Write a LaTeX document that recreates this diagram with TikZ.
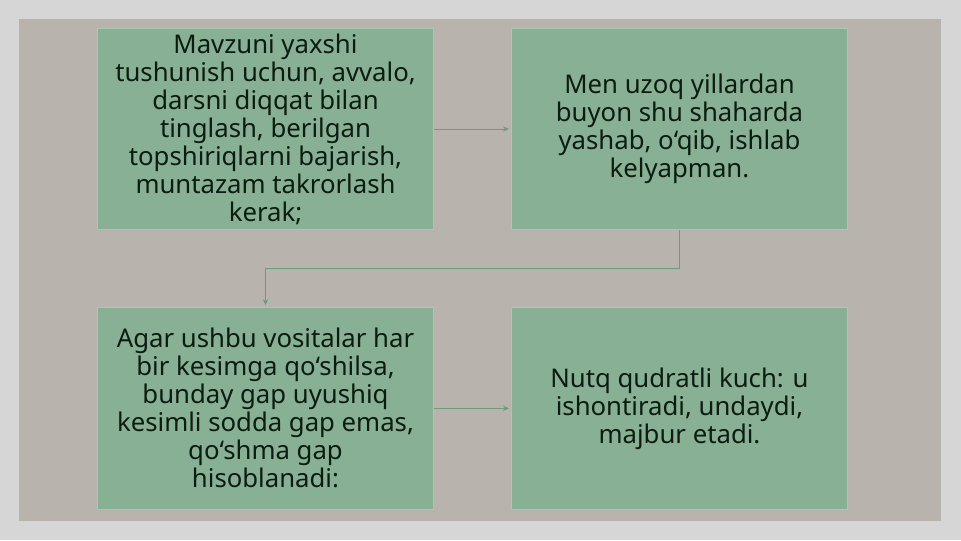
\documentclass[tikz,border=0pt]{standalone}
\usepackage{fontspec}
\setmainfont{Noto Sans}
\usetikzlibrary{calc,arrows.meta,positioning}

\definecolor{pagegrey}{RGB}{214,214,214}
\definecolor{panelgrey}{RGB}{184,179,172}
\definecolor{boxgreen}{RGB}{136,176,148}
\definecolor{boxline}{RGB}{168,200,176}
\definecolor{linkgreen}{RGB}{108,156,124}
\definecolor{textdark}{RGB}{12,28,16}

\begin{document}
\begin{tikzpicture}[x=0.75pt,y=0.75pt,yscale=-1,xscale=1,
  box/.style = {draw=boxline, fill=boxgreen, line width=0.75pt,
  minimum width=252pt, minimum height=151pt, inner sep=0pt,
  align=center, text=textdark, font=\fontsize{19.3}{21}\selectfont},
  link/.style = {draw=linkgreen, line width=0.75pt, ->, shorten >=1.5pt},
  node distance=57.75pt,
  >={Stealth[length=4.5pt,width=4pt]}]
  % background and panel
  \fill[pagegrey] (0,0) rectangle (961,540);
  \fill[panelgrey] (19,19) rectangle (941,521);

  \node[box] (b1) at (265.5,129) {Mavzuni yaxshi\\ tushunish uchun, avvalo,\\ darsni diqqat bilan\\ tinglash, berilgan\\ topshiriqlarni bajarish,\\ muntazam takrorlash\\ kerak;};
  \node[box] (b2) [right=of b1] {Men uzoq yillardan\\ buyon shu shaharda\\ yashab, o‘qib, ishlab\\ kelyapman.};
  \node[box] (b3) [below=of b1] {Agar ushbu vositalar har\\ bir kesimga qo‘shilsa,\\ bunday gap uyushiq\\ kesimli sodda gap emas,\\ qo‘shma gap\\ hisoblanadi:};
  \node[box] (b4) [right=of b3] {Nutq qudratli kuch: u\\ ishontiradi, undaydi,\\ majbur etadi.};

  \coordinate (bend) at ($(b2.south)!0.5!(b2.south |- b3.north)$);
  \draw[link] (b1) -- (b2);
  \draw[link] (b2.south) -- (bend) -| (b3.north);
  \draw[link] (b3) -- (b4);
\end{tikzpicture}
\end{document}
